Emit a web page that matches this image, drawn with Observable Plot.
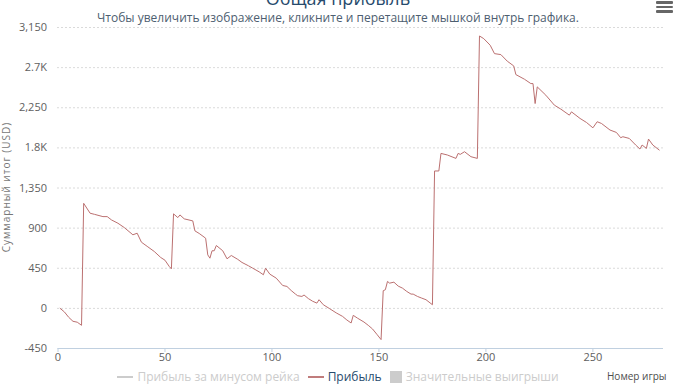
<!DOCTYPE html>
<html>
<head>
<meta charset="utf-8">
<script src="https://cdn.jsdelivr.net/npm/d3@7"></script>
<script src="https://cdn.jsdelivr.net/npm/@observablehq/plot@0.6"></script>
<style>
  html, body { margin: 0; padding: 0; background: #fff; overflow: hidden; }
  #wrap { position: relative; width: 676px; height: 388px; font-family: "Open Sans", sans-serif; }
  #chart { position: absolute; left: 0; top: 0; }
  .abs { position: absolute; white-space: nowrap; }
  #title { left: 0; width: 676px; text-align: center; top: -14px; font-size: 18px; color: #274b6d; }
  #subtitle { left: 0; width: 676px; text-align: center; top: 9px; font-size: 12px; color: #4d5e70; }
  #ytitle { left: 6px; top: 187px; font-size: 10px; color: #777; letter-spacing: 1px; transform: translate(-50%, -50%) rotate(-90deg); }
  #xtitle { left: 607px; top: 369px; font-size: 10px; color: #4d4d4d; }
  #legend { left: 0; width: 676px; top: 368px; display: flex; justify-content: center; align-items: center; font-size: 12px; }
  .item { display: flex; align-items: center; margin: 0 4px; }
  .sym { width: 16px; height: 2px; margin-right: 4px; }
  .sq { width: 12px; height: 12px; margin-right: 4px; background: #ccc; }
  #menu { left: 656px; top: 1px; width: 17px; }
  #menu div { height: 2.5px; background: #666; margin-bottom: 2px; border-radius: 1px; }
</style>
</head>
<body>
<div id="wrap">
  <div id="chart"></div>
  <div class="abs" id="title">Общая прибыль</div>
  <div class="abs" id="subtitle">Чтобы увеличить изображение, кликните и перетащите мышкой внутрь графика.</div>
  <div class="abs" id="ytitle">Суммарный итог (USD)</div>
  <div class="abs" id="legend">
    <div class="item" style="color:#ccc;"><div class="sym" style="background:#ccc;"></div>Прибыль за минусом рейка</div>
    <div class="item" style="color:#274b6d;"><div class="sym" style="background:#c07c7c;"></div>Прибыль</div>
    <div class="item" style="color:#ccc;"><div class="sq"></div>Значительные выигрыши</div>
  </div>
  <div class="abs" id="xtitle">Номер игры</div>
  <div class="abs" id="menu"><div></div><div></div><div></div></div>
</div>
<script>
const games = [1,3,5,7,9,11,12,15,17,21,23,25,28,31,35,37,39,42,45,48,50,52,53,54,56,57,59,63,64,66,69,70,71,72,73,74,77,79,81,84,86,89,91,94,96,97,99,102,105,107,109,111,112,114,115,117,119,121,122,124,127,130,133,135,137,138,140,143,145,147,149,151,152,153,154,155,157,159,161,163,165,166,168,170,172,175,176,178,179,182,186,187,188,190,193,196,197,199,202,204,207,210,213,214,218,221,222,223,224,228,232,235,239,240,244,247,250,252,254,258,261,263,264,267,270,272,273,275,276,278,281];
const profit = [0,-40,-100,-145,-155,-190,1178,1067,1055,1029,1029,992,955,906,825,843,742,690,638,571,540,470,444,1060,1018,1048,1004,981,869,840,787,600,563,646,646,705,646,556,593,550,515,478,451,410,377,451,384,339,257,246,200,160,142,134,150,110,80,59,97,41,-4,-50,-90,-130,-164,-78,-110,-153,-190,-231,-290,-350,198,209,302,283,294,250,227,190,160,160,134,115,97,41,1541,1541,1738,1720,1682,1738,1727,1757,1701,1682,3055,3025,2951,2857,2846,2772,2719,2622,2570,2521,2521,2297,2484,2391,2279,2235,2167,2204,2130,2085,2025,2093,2074,2000,1973,1914,1925,1906,1832,1787,1832,1794,1899,1832,1776];
const yTicks = [3150, 2700, 2250, 1800, 1350, 900, 450, 0, -450];
const yTickLabels = ["3,150", "2.7K", "2,250", "1.8K", "1,350", "900", "450", "0", "-450"];
const xTicks = [0, 50, 100, 150, 200, 250];

const data = games.map((g, i) => ({game: g, profit: profit[i]}));
const labelMap = new Map(yTicks.map((v, i) => [v, yTickLabels[i]]));

const chart = Plot.plot({
  width: 676,
  height: 388,
  marginLeft: 57.5,
  marginRight: 13,
  marginTop: 27,
  marginBottom: 40,
  style: {fontFamily: "Open Sans, sans-serif", fontSize: "11px", color: "#606060", background: "transparent"},
  x: {domain: [0, 283]},
  y: {domain: [-450, 3150]},
  marks: [
    Plot.gridY(yTicks.filter(v => v > -450), {stroke: "#b5b5b5", strokeOpacity: 1, strokeDasharray: "1,3"}),
    Plot.axisY(yTicks, {tickSize: 0, tickPadding: 11, tickFormat: d => labelMap.get(d), label: null, fill: "#606060"}),
    Plot.ruleY([-450], {stroke: "#c0d0e0"}),
    Plot.axisX(xTicks, {tickSize: 4, tickPadding: 1, label: null, stroke: "#c0d0e0", fill: "#606060"}),
    Plot.line(data, {x: "game", y: "profit", stroke: "#bb7070", strokeWidth: 1})
  ]
});
document.getElementById("chart").appendChild(chart);
</script>
</body>
</html>
